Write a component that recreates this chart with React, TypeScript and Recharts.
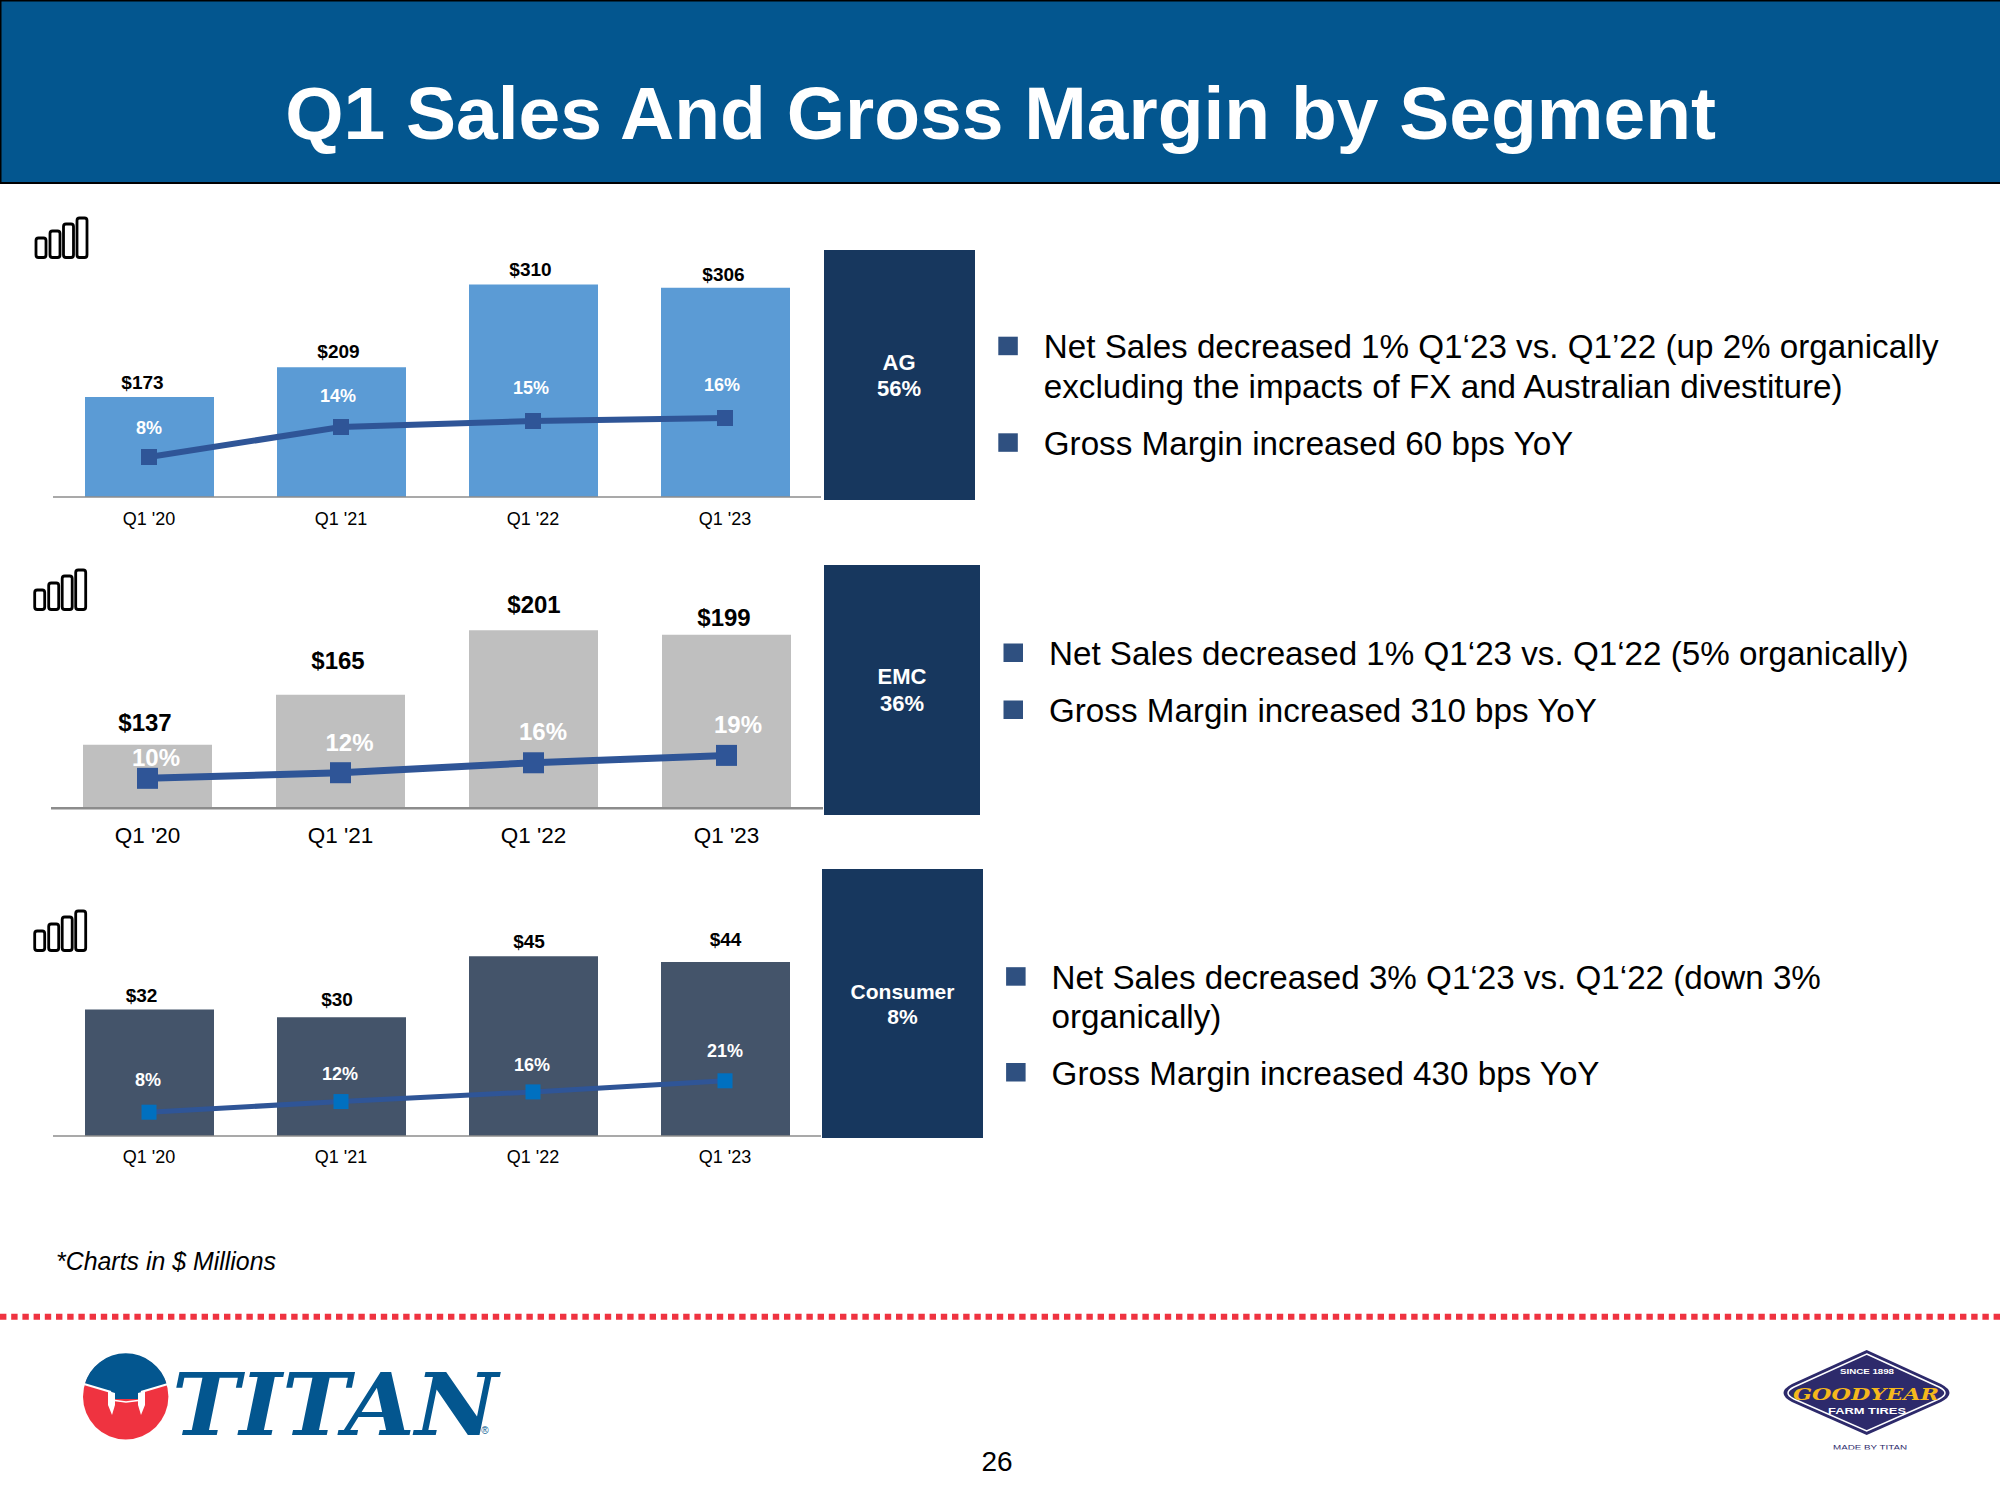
import React from "react";
import { ComposedChart, Bar, Line, XAxis, YAxis, LabelList } from "recharts";

const FONT = "'Liberation Sans', Arial, sans-serif";

const categories = ["Q1 '20", "Q1 '21", "Q1 '22", "Q1 '23"];
const agSales = [173, 209, 310, 306];
const agMargin = [8, 14, 15.2, 15.8];
const emcSales = [137, 165, 201, 198.5];
const emcMargin = [10, 12.2, 16.1, 19];
const consumerSales = [32, 30.1, 45, 43.6];
const consumerMargin = [8, 12.4, 16.4, 21];

const title = "Q1 Sales And Gross Margin by Segment";
const footnote = "*Charts in $ Millions";
const pageNumber = "26";

const makeRows = (sales: number[], margin: number[]) =>
  categories.map((name, i) => ({ name, sales: sales[i], margin: margin[i] }));

const panels = [
  {
    rows: makeRows(agSales, agMargin),
    left: 53, top: 250, width: 768, axisY: 497,
    salesDomain: [51, 352], marginDomain: [0, 49.4],
    barColor: "#5B9BD5", axisWidth: 1.5,
    lineWidth: 6, markerSize: 16, markerColor: "#2F5597",
    tickSize: 18, tickY: 519, salesSize: 19, marginSize: 18,
    salesDx: [-7, -3, -3, -2], salesDy: [-14.3, -16.3, -14.6, -13.6],
    marginDx: [0, -3, -2, -3], marginDy: [-29.4, -30.7, -33, -33],
  },
  {
    rows: makeRows(emcSales, emcMargin),
    left: 51, top: 565, width: 772, axisY: 808.3,
    salesDomain: [101.5, 237.5], marginDomain: [-1.76, 93.7],
    barColor: "#BFBFBF", axisWidth: 2.5,
    lineWidth: 7, markerSize: 21, markerColor: "#2F5597",
    tickSize: 22.5, tickY: 836, salesSize: 24, marginSize: 24,
    salesDx: [-2.5, -2.5, 0.5, -2.5], salesDy: [-22.7, -34.3, -25.3, -17],
    marginDx: [8.5, 9, 9.5, 11.5], marginDy: [-21.3, -30.4, -31.7, -31.3],
  },
  {
    rows: makeRows(consumerSales, consumerMargin),
    left: 53, top: 869, width: 768, axisY: 1136,
    salesDomain: [1, 66.4], marginDomain: [-1.86, 108.7],
    barColor: "#44546A", axisWidth: 1.5,
    lineWidth: 5, markerSize: 15, markerColor: "#0070C0",
    tickSize: 18, tickY: 1156.7, salesSize: 19, marginSize: 18,
    salesDx: [-8, -4.5, -4.5, 0], salesDy: [-13.5, -17.2, -15, -22.9],
    marginDx: [-1, -1, -1, 0], marginDy: [-31.8, -27.3, -27, -29.8],
  },
];

const boxes = [
  { x: 824, y: 250, w: 151, h: 250, cx: 899, lines: [["AG", 362], ["56%", 388.7]], size: 22 },
  { x: 824, y: 565, w: 156, h: 250, cx: 902, lines: [["EMC", 676], ["36%", 703.7]], size: 22 },
  { x: 822, y: 869, w: 161, h: 269, cx: 902.5, lines: [["Consumer", 991], ["8%", 1016.3]], size: 21 },
];

const bullets = [
  { text: "Net Sales decreased 1% Q1\u201823 vs. Q1\u201922 (up 2% organically", x: 1043.8, y: 346.7 },
  { text: "excluding the impacts of FX and Australian divestiture)", x: 1043.8, y: 386.7, plain: true },
  { text: "Gross Margin increased 60 bps YoY", x: 1043.8, y: 443.3 },
  { text: "Net Sales decreased 1% Q1\u201823 vs. Q1\u201822 (5% organically)", x: 1049, y: 653.5 },
  { text: "Gross Margin increased 310 bps YoY", x: 1049, y: 710.5 },
  { text: "Net Sales decreased 3% Q1\u201823 vs. Q1\u201822 (down 3%", x: 1051.6, y: 977.2 },
  { text: "organically)", x: 1051.6, y: 1016.5, plain: true },
  { text: "Gross Margin increased 430 bps YoY", x: 1051.6, y: 1073 },
];

const iconSpots = [
  { x: 0, y: 0 },
  { x: -1.3, y: 352 },
  { x: -1.3, y: 693 },
];

const iconBars = [
  { x: 36, y: 238, w: 10 },
  { x: 50, y: 231, w: 10 },
  { x: 63.5, y: 224, w: 10 },
  { x: 77, y: 218, w: 10 },
];

const ChartPanel = ({ p }: { p: any }) => {
  const axisH = 50;
  const plotH = p.axisY - p.top;
  const Tick = (t: any) => (
    <text
      x={t.x}
      y={p.tickY - p.top}
      textAnchor="middle"
      dominantBaseline="central"
      fontFamily={FONT}
      fontSize={p.tickSize}
      fill="#000"
    >
      {t.payload.value}
    </text>
  );
  const SalesLabel = (l: any) => (
    <text
      x={l.x + l.width / 2 + p.salesDx[l.index]}
      y={l.y + p.salesDy[l.index]}
      textAnchor="middle"
      dominantBaseline="central"
      fontFamily={FONT}
      fontWeight={700}
      fontSize={p.salesSize}
      fill="#000"
    >
      {`$${Math.round(Number(l.value))}`}
    </text>
  );
  const MarginLabel = (l: any) => (
    <text
      x={l.x + p.marginDx[l.index]}
      y={l.y + p.marginDy[l.index]}
      textAnchor="middle"
      dominantBaseline="central"
      fontFamily={FONT}
      fontWeight={700}
      fontSize={p.marginSize}
      fill="#FFFFFF"
    >
      {`${Math.round(Number(l.value))}%`}
    </text>
  );
  const Marker = (d: any) => (
    <rect
      key={d.index}
      x={d.cx - p.markerSize / 2}
      y={d.cy - p.markerSize / 2}
      width={p.markerSize}
      height={p.markerSize}
      fill={p.markerColor}
    />
  );
  return (
    <div style={{ position: "absolute", left: p.left, top: p.top, width: p.width, height: plotH + axisH }}>
      <ComposedChart
        width={p.width}
        height={plotH + axisH}
        data={p.rows}
        margin={{ top: 0, right: 0, bottom: 0, left: 0 }}
        barCategoryGap="33%"
      >
        <XAxis
          dataKey="name"
          xAxisId="x"
          height={axisH}
          tickLine={false}
          axisLine={{ stroke: "#8C8C8C", strokeWidth: p.axisWidth }}
          tick={<Tick />}
          interval={0}
        />
        <YAxis yAxisId="sales" hide domain={p.salesDomain} allowDataOverflow />
        <YAxis yAxisId="margin" hide orientation="right" domain={p.marginDomain} allowDataOverflow />
        <Bar
          xAxisId="x"
          yAxisId="sales"
          dataKey="sales"
          fill={p.barColor}
          barSize={129}
          isAnimationActive={false}
        >
          <LabelList dataKey="sales" content={<SalesLabel />} />
        </Bar>
        <Line
          xAxisId="x"
          yAxisId="margin"
          dataKey="margin"
          type="linear"
          stroke="#2F5597"
          strokeWidth={p.lineWidth}
          dot={<Marker />}
          activeDot={false}
          isAnimationActive={false}
        >
          <LabelList dataKey="margin" content={<MarginLabel />} />
        </Line>
      </ComposedChart>
    </div>
  );
};

const Decorations = () => (
  <svg
    width={2000}
    height={1500}
    style={{ position: "absolute", left: 0, top: 0 }}
    fontFamily={FONT}
  >
    <rect x={0.75} y={0.75} width={2000} height={182} fill="#03568F" stroke="#000" strokeWidth={1.5} />
    <line x1={0} x2={2000} y1={183} y2={183} stroke="#000" strokeWidth={2} />
    <text x={1000.6} y={139} textAnchor="middle" fontWeight={700} fontSize={75} fill="#fff">
      {title}
    </text>

    {iconSpots.map((s, i) => (
      <g key={i} transform={`translate(${s.x},${s.y})`}>
        {iconBars.map((b, j) => (
          <rect key={j} x={b.x} y={b.y} width={b.w} height={257.5 - b.y} rx={2.5} fill="#fff" stroke="#000" strokeWidth={2.8} />
        ))}
      </g>
    ))}

    {boxes.map((b, i) => (
      <g key={i}>
        <rect x={b.x} y={b.y} width={b.w} height={b.h} fill="#17375E" />
        {b.lines.map((l: any, j: number) => (
          <text key={j} x={b.cx} y={l[1]} textAnchor="middle" dominantBaseline="central" fontWeight={700} fontSize={b.size} fill="#fff">
            {l[0]}
          </text>
        ))}
      </g>
    ))}

    {bullets.map((b: any, i) => (
      <g key={i}>
        {!b.plain && <rect x={b.x - 45.5} y={b.y - 10} width={19.5} height={18.5} fill="#2F5080" />}
        <text x={b.x} y={b.y} dominantBaseline="central" fontSize={33.2} fill="#000">
          {b.text}
        </text>
      </g>
    ))}

    <text x={56} y={1261} dominantBaseline="central" fontStyle="italic" fontSize={24.9} fill="#000">
      {footnote}
    </text>
    <line x1={0} x2={2000} y1={1316.7} y2={1316.7} stroke="#EF3340" strokeWidth={6} strokeDasharray="6.4 4.8" />
    <text x={997} y={1461} textAnchor="middle" dominantBaseline="central" fontSize={28} fill="#000">
      {pageNumber}
    </text>

    {/* Titan logo */}
    <circle cx={125.7} cy={1396.7} r={42.7} fill="#EF3340" />
    <path d="M 84.5 1385 A 42.7 42.7 0 0 1 167 1385 L 141 1392 L 138 1399 L 115 1399 L 112 1392 Z" fill="#03568F" />
    <path d="M 84 1384 L 111 1392" fill="none" stroke="#fff" strokeWidth={2} />
    <path d="M 168 1384 L 141 1392" fill="none" stroke="#fff" strokeWidth={2} />
    <path d="M 108 1391 L 115 1393 L 115 1405 L 112 1415 L 108 1405 Z" fill="#fff" />
    <path d="M 145 1391 L 138 1393 L 138 1405 L 141 1415 L 145 1405 Z" fill="#fff" />
    <path d="M 115 1400.5 L 126 1402 L 138 1400.5" fill="none" stroke="#fff" strokeWidth={1.5} />
    <text
      x={172}
      y={1435}
      fontFamily="'DejaVu Serif', serif"
      fontWeight={700}
      fontStyle="italic"
      fontSize={86}
      textLength={326}
      lengthAdjust="spacingAndGlyphs"
      fill="#03568F"
    >
      TITAN
    </text>
    <text x={485} y={1434} textAnchor="middle" fontSize={10} fill="#03568F">{"\u00AE"}</text>

    {/* Goodyear logo */}
    <path
      d="M 1866.7 1350 L 1941 1384 Q 1958 1393 1941 1402 L 1866.7 1435 L 1792 1402 Q 1775 1393 1792 1384 Z"
      fill="#2D2A6B"
    />
    <path
      d="M 1866.7 1354 L 1939 1387 Q 1951 1393 1939 1399 L 1866.7 1431 L 1794 1399 Q 1782 1393 1794 1387 Z"
      fill="none"
      stroke="#fff"
      strokeWidth={1.5}
    />
    <text x={1867} y={1371.5} textAnchor="middle" dominantBaseline="central" fontSize={7} fontWeight={700} fill="#fff" textLength={54} lengthAdjust="spacingAndGlyphs">SINCE 1898</text>
    <text
      x={1866}
      y={1393.5}
      textAnchor="middle"
      dominantBaseline="central"
      fontFamily="'DejaVu Serif', serif"
      fontWeight={700}
      fontStyle="italic"
      fontSize={17}
      textLength={146}
      lengthAdjust="spacingAndGlyphs"
      fill="#F5B81C"
    >
      GOODYEAR
    </text>
    <text x={1867} y={1410.5} textAnchor="middle" dominantBaseline="central" fontSize={9.5} fontWeight={700} fill="#fff" textLength={78} lengthAdjust="spacingAndGlyphs">FARM TIRES</text>
    <text x={1870} y={1447} textAnchor="middle" dominantBaseline="central" fontSize={7.5} fill="#2D2A6B" textLength={74} lengthAdjust="spacingAndGlyphs">MADE BY TITAN</text>
    <rect x={1825} y={1449.5} width={90} height={6} fill="#fff" />
  </svg>
);

export default function App() {
  return (
    <div style={{ position: "absolute", left: 0, top: 0, width: 2000, height: 1500, background: "#fff", overflow: "hidden", fontFamily: FONT }}>
      <Decorations />
      {panels.map((p, i) => (
        <ChartPanel key={i} p={p} />
      ))}
    </div>
  );
}
